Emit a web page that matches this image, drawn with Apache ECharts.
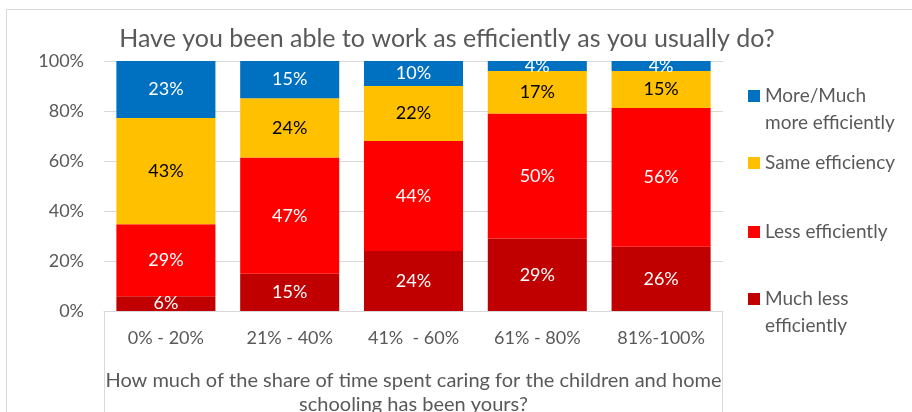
<!DOCTYPE html>
<html>
<head>
<meta charset="utf-8">
<script src="https://cdn.jsdelivr.net/npm/echarts@6/dist/echarts.min.js"></script>
<style>
  html, body { margin: 0; padding: 0; background: #fff; }
  #main { width: 912px; height: 412px; }
</style>
</head>
<body>
<div id="main"></div>
<script>
// 数据
var categories = ['0% - 20%', '21% - 40%', '41%  - 60%', '61% - 80%', '81%-100%'];
var muchLess = [6, 15, 24, 29, 26];
var less = [29, 47, 44, 50, 56];
var same = [43, 24, 22, 17, 15];
var more = [23, 15, 10, 4, 4];
var yTicks = ['0%', '20%', '40%', '60%', '80%', '100%'];

var seriesNames = ['Much less efficiently', 'Less efficiently', 'Same efficiency', 'More/Much more efficiently'];
var seriesColors = ['#C00000', '#FF0000', '#FFC000', '#0070C0'];
var labelColors = ['#fff', '#fff', '#000', '#fff'];
var raw = [muchLess, less, same, more];

// 100% 堆叠: 每列归一化
var totals = categories.map(function(c, i) {
    return raw.reduce(function(s, arr) { return s + arr[i]; }, 0);
});

var font = 'Lato, "Liberation Sans", sans-serif';
var grey = '#595959';

(function() {
    var myChart = echarts.init(document.getElementById('main'));

    var series = raw.map(function(arr, k) {
        return {
            name: seriesNames[k],
            type: 'bar',
            stack: 'all',
            barCategoryGap: '20%',
            itemStyle: { color: seriesColors[k] },
            label: {
                show: true,
                position: 'inside',
                color: labelColors[k],
                fontFamily: font,
                fontSize: 18,
                formatter: function(p) { return arr[p.dataIndex] + '%'; }
            },
            data: arr.map(function(v, i) { return v / totals[i] * 100; })
        };
    });

    // 图例: 每项单独放，两行的项目前面加一个空行让方块对齐第一行
    var L = 27;
    var legendItems = [
        { name: seriesNames[3], text: '\nMore/Much\nmore efficiently', center: 96, lines: 3 },
        { name: seriesNames[2], text: 'Same efficiency', center: 163, lines: 1 },
        { name: seriesNames[1], text: 'Less efficiently', center: 232, lines: 1 },
        { name: seriesNames[0], text: '\nMuch less\nefficiently', center: 299, lines: 3 }
    ];
    var legends = legendItems.map(function(it) {
        return {
            left: 748,
            top: it.center - it.lines * L / 2,
            padding: 0,
            itemWidth: 12,
            itemHeight: 12,
            itemGap: 0,
            icon: 'rect',
            selectedMode: false,
            data: [it.name],
            formatter: function() { return it.text; },
            textStyle: {
                fontFamily: font,
                fontSize: 19,
                color: grey,
                lineHeight: L
            }
        };
    });

    var option = {
        animation: false,
        title: {
            text: 'Have you been able to work as efficiently as you usually do?',
            left: 442,
            textAlign: 'center',
            top: 21,
            textStyle: { fontFamily: font, fontSize: 25, fontWeight: 'normal', color: grey }
        },
        legend: legends,
        grid: { left: 104, right: 189, top: 61, bottom: 101, outerBoundsMode: 'none', containLabel: false },
        xAxis: {
            type: 'category',
            data: categories,
            axisTick: { show: false },
            axisLine: { lineStyle: { color: '#D9D9D9', width: 1 } },
            axisLabel: { color: grey, fontFamily: font, fontSize: 18, margin: 18 },
            name: 'How much of the share of time spent caring for the children and home\nschooling has been yours?',
            nameLocation: 'middle',
            nameGap: 58,
            nameTextStyle: { color: grey, fontFamily: font, fontSize: 20, lineHeight: 24 }
        },
        yAxis: {
            type: 'value',
            min: 0,
            max: 100,
            interval: 20,
            axisLine: { show: false },
            axisTick: { show: false },
            splitLine: { lineStyle: { color: '#D9D9D9' } },
            axisLabel: {
                color: grey, fontFamily: font, fontSize: 18, margin: 20,
                formatter: function(v) { return yTicks[v / 20]; }
            }
        },
        graphic: [
            { type: 'rect', silent: true, shape: { x: 6.5, y: 9.5, width: 1000, height: 500 },
              style: { fill: 'none', stroke: '#D9D9D9', lineWidth: 1 } },
            { type: 'rect', silent: true, shape: { x: 104.5, y: 311.5, width: 618, height: 200 },
              style: { fill: 'none', stroke: '#D9D9D9', lineWidth: 1 } }
        ],
        series: series
    };
    myChart.setOption(option);
})();
</script>
</body>
</html>
